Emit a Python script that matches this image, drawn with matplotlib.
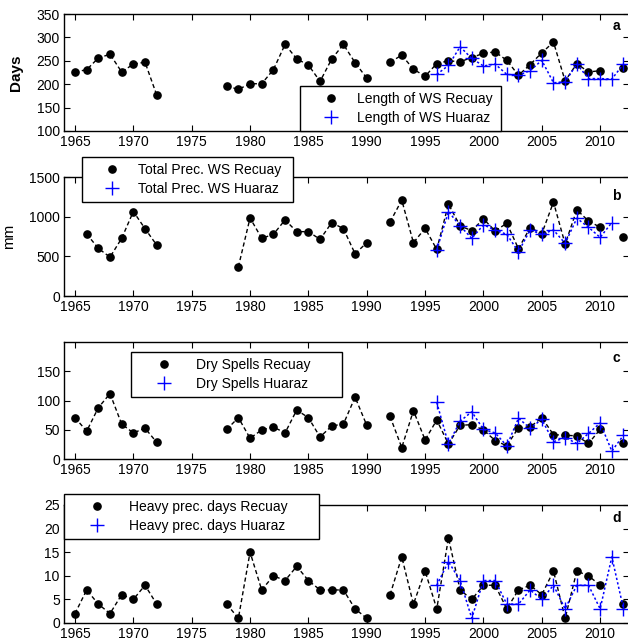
import numpy as np
import matplotlib
matplotlib.use("Agg")
import matplotlib.pyplot as plt
from matplotlib.lines import Line2D

plt.rcParams['font.family'] = ['Liberation Sans', 'DejaVu Sans']

nan = np.nan
years = np.arange(1965, 2013)
years_hz = np.arange(1996, 2013)

ws_len_recuay = [226, 231, 256, 264, 226, 243, 247, 177, nan, nan, nan, nan, nan,
                 196, 189, 201, 201, 231, 285, 254, 241, 206, 254, 285, 246, 213, nan,
                 247, 262, 232, 217, 244, 250, 248, 257, 266, 269, 251, 219, 242, 267,
                 290, 207, 244, 226, 229, nan, 234]
ws_len_huaraz = [221, 240, 280, 255, 239, 243, 221, 219, 229, 251, 203, 205, 243,
                 212, 212, 211, 243]

prec_recuay = [nan, 782, 600, 490, 727, 1065, 849, 642, nan, nan, nan, nan, nan, nan,
               368, 984, 727, 777, 959, 811, 811, 714, 925, 849, 532, 672, nan,
               934, 1208, 672, 853, 587, 1158, 883, 824, 972, 820, 917, 596, 862, 786,
               1183, 655, 1086, 946, 866, nan, 739]
prec_huaraz = [579, 1065, 883, 727, 896, 832, 777, 558, 832, 777, 832, 663, 980,
               866, 739, 925, nan]

dry_recuay = [71, 48, 88, 112, 60, 45, 53, 29, nan, nan, nan, nan, nan,
              51, 71, 36, 50, 55, 45, 84, 71, 38, 57, 60, 106, 58, nan,
              73, 20, 83, 33, 67, 26, 58, 59, 50, 32, 23, 54, 55, 71, 42, 41, 40, 27, 51,
              nan, 28]
dry_huaraz = [97, 26, 65, 81, 51, 45, 23, 70, 53, 68, 30, 37, 27, 44, 62, 14, 41]

heavy_recuay = [2, 7, 4, 2, 6, 5, 8, 4, nan, nan, nan, nan, nan,
                4, 1, 15, 7, 10, 9, 12, 9, 7, 7, 7, 3, 1, nan,
                6, 14, 4, 11, 3, 18, 7, 5, 8, 8, 3, 7, 8, 6, 11, 1, 11, 10, 8, nan, 4]
heavy_huaraz = [8, 13, 9, 1, 9, 9, 4, 4, 7, 5, 8, 3, 8, 8, 3, 14, 3]

panels = [
    dict(rec=ws_len_recuay, hz=ws_len_huaraz, ylim=(100, 350), yticks=[100, 150, 200, 250, 300, 350],
         ylabel='Days', ylabel_bold=True, letter='a', letter_y=0.90,
         labels=('Length of WS Recuay', 'Length of WS Huaraz'), leg=(300, 86, 201),
         hl=3.6, htp=0.1),
    dict(rec=prec_recuay, hz=prec_huaraz, ylim=(0, 1500), yticks=[0, 500, 1000, 1500],
         ylabel='mm', ylabel_bold=False, letter='b', letter_y=0.84,
         labels=('Total Prec. WS Recuay', 'Total Prec. WS Huaraz'), leg=(82, 157, 211),
         hl=3.5, htp=0.1),
    dict(rec=dry_recuay, hz=dry_huaraz, ylim=(0, 200), yticks=[0, 50, 100, 150],
         ylabel=None, ylabel_bold=False, letter='c', letter_y=0.865,
         labels=('Dry Spells Recuay', 'Dry Spells Huaraz'), leg=(131, 352, 211),
         hl=3.9, htp=0.37),
    dict(rec=heavy_recuay, hz=heavy_huaraz, ylim=(0, 25), yticks=[0, 5, 10, 15, 20, 25],
         ylabel=None, ylabel_bold=False, letter='d', letter_y=0.89,
         labels=('Heavy prec. days Recuay', 'Heavy prec. days Huaraz'), leg=(64, 494, 255),
         hl=3.9, htp=0.37),
]

W, H = 628, 644
fig = plt.figure(figsize=(W / 100, H / 100), dpi=100)

# (top, bottom) in pixels
boxes = [(14, 131), (177, 296), (342, 459.3), (505, 623)]
left_px, right_px = 64, 629
x0 = 1965 - (75 - left_px) / 11.67
x1 = 1965 + (right_px - 75) / 11.67

for p, (top, bot) in zip(panels, boxes):
    ax = fig.add_axes([left_px / W, 1 - bot / H, (right_px - left_px) / W, (bot - top) / H])
    ax.plot(years, np.array(p['rec'], dtype=float), color='black', linestyle=(0, (3, 2)),
            linewidth=1.0, marker='o', markersize=5.2, markerfacecolor='black',
            markeredgecolor='black')
    ax.plot(years_hz, np.array(p['hz'], dtype=float), color='blue', linestyle=(0, (1.5, 1.5)),
            linewidth=1.1, marker='+', markersize=10, markeredgewidth=1.0)
    ax.set_xlim(x0, x1)
    ax.set_ylim(*p['ylim'])
    ax.set_xticks(np.arange(1965, 2011, 5))
    ax.set_yticks(p['yticks'])
    ax.tick_params(direction='in', top=True, right=True, length=4.5, width=0.8,
                   labelsize=10, pad=3)
    for s in ax.spines.values():
        s.set_linewidth(1.0)
    if p['ylabel']:
        ax.set_ylabel(p['ylabel'], fontsize=11,
                      fontweight='bold' if p['ylabel_bold'] else 'normal')
        ax.yaxis.set_label_coords(-0.072 if p['ylabel_bold'] else -0.085, 0.5)
    ax.text(0.978, p['letter_y'], p['letter'], transform=ax.transAxes, ha='center',
            va='center', fontsize=10, fontweight='bold')
    handles = [Line2D([], [], color='black', marker='o', markersize=5.2, linestyle='none'),
               Line2D([], [], color='blue', marker='+', markersize=10, markeredgewidth=1.0,
                      linestyle='none')]
    lx, ly, lw = p['leg']
    leg = fig.legend(handles, list(p['labels']), loc='upper left',
                     bbox_to_anchor=(lx / W, 1 - ly / H, lw / W, 0),
                     bbox_transform=fig.transFigure, mode='expand',
                     fontsize=10, frameon=True, fancybox=False, borderpad=0.4,
                     borderaxespad=0, handlelength=p['hl'], handletextpad=p['htp'],
                     labelspacing=0.4)
    leg.get_frame().set_edgecolor('black')
    leg.get_frame().set_linewidth(1.0)
    leg.get_frame().set_alpha(1)

fig.savefig('out.png', dpi=100)
